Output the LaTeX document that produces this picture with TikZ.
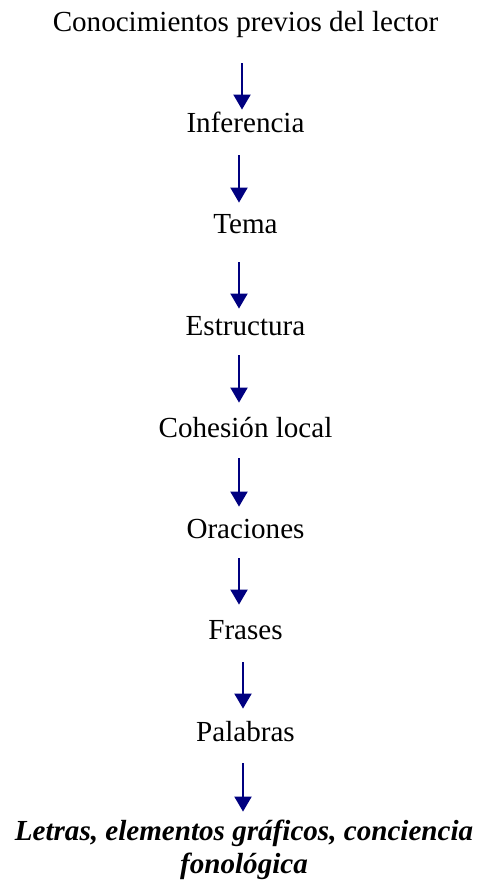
\documentclass[tikz,border=0pt]{standalone}
\usepackage{fontspec}
\setmainfont{Liberation Serif}
\usetikzlibrary{arrows.meta}
\definecolor{azul}{RGB}{0,0,128}

\tikzset{
  nivel/.style={anchor=base, inner sep=0pt, text height=9.65pt, text depth=0pt,
                font=\fontsize{14.55}{17.5}\selectfont},
  flecha/.style={draw=azul, line width=1pt,
                 -{Triangle[length=7.5pt,width=8.5pt]}}
}

\begin{document}
\begin{tikzpicture}[x=0.5pt,y=-0.5pt]
    \useasboundingbox (0,0) rectangle (479,882);
    \node[nivel] (con) at (245.5,32)  {Conocimientos previos del lector};
    \node[nivel] (inf) at (245.5,133) {Inferencia};
    \node[nivel] (tem) at (245.5,234) {Tema};
    \node[nivel] (est) at (245.5,335) {Estructura};
    \node[nivel] (coh) at (245.5,437) {Cohesión local};
    \node[nivel] (ora) at (245.5,538) {Oraciones};
    \node[nivel] (fra) at (245.5,639) {Frases};
    \node[nivel] (pal) at (245.5,741) {Palabras};
    \node[nivel, align=center, text height=26.15pt,
          font=\fontsize{14.55}{16.5}\selectfont\bfseries\itshape]
          (let) at (244,873) {Letras, elementos gráficos, conciencia\\fonológica};
    % flechas de arriba abajo
    \foreach \a/\b/\dx/\s/\e in {con/inf/-1.75/15.5/1.85, inf/tem/-3.25/11/5.85,
        tem/est/-3.25/14/3.35, est/coh/-3.25/10/7.35, coh/ora/-3.25/10.5/5.85,
        ora/fra/-3.25/10/7.35, fra/pal/-1.25/11.5/6.35, pal/let/-1.25/11/4.35}
      \draw[flecha, shorten <=\s pt, shorten >=\e pt]
           ([xshift=\dx pt]\a.south) -- ([xshift=\dx pt]\a.south |- \b.north);
  \end{tikzpicture}
\end{document}
